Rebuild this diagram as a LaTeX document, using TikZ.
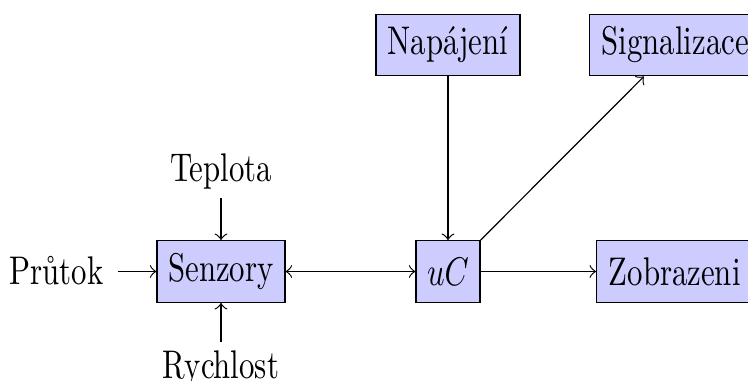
\documentclass[tikz,border=0pt]{standalone}
\usepackage{graphicx}
% narrow the lettering horizontally
\newcommand{\narrowtxt}[1]{\scalebox{0.77}[1]{#1}}
\begin{document}
\begin{tikzpicture}[x=0.25pt,y=-0.25pt, line width=0.3pt,
  block/.style={draw=black, fill=blue!20, inner sep=0pt, minimum height=15.4pt},
  lbl/.style={inner xsep=3.33pt, inner ysep=2pt},
  conn/.style={->}]
\useasboundingbox (0,0) rectangle (748,381);

% blocks
\node[block, minimum width=32pt] (senz) at (221,271.5) {\narrowtxt{Senzory}};
\node[block, minimum width=16pt] (uc)   at (448,271.5) {\narrowtxt{$uC$}};
\node[block, minimum width=36pt] (nap)  at (448,45)    {\narrowtxt{Napájení}};
\node[block, minimum width=43pt] (sig)  at (675.3,45)  {\narrowtxt{Signalizace}};
\node[block, minimum width=39pt] (zob)  at (674.7,271.5) {\narrowtxt{Zobrazeni}};

% sensor inputs
\node[lbl, anchor=base] (tep)  at (221,182)   {\narrowtxt{Teplota}};
\node[lbl, anchor=base] (prut) at (56.7,284.3) {\narrowtxt{Průtok}};
\node[lbl, anchor=base] (ryc)  at (221,378.5) {\narrowtxt{Rychlost}};

% connections
\draw[conn] (tep) -- (senz);
\draw[conn] (ryc) -- (senz);
\draw[conn] (prut.east |- senz.west) -- (senz.west);
\draw[<->] (senz) -- (uc);
\draw[conn] (nap) -- (uc);
\draw[conn] (uc) -- (zob);
\draw[conn] (uc.north east) -- (sig);
\end{tikzpicture}
\end{document}
